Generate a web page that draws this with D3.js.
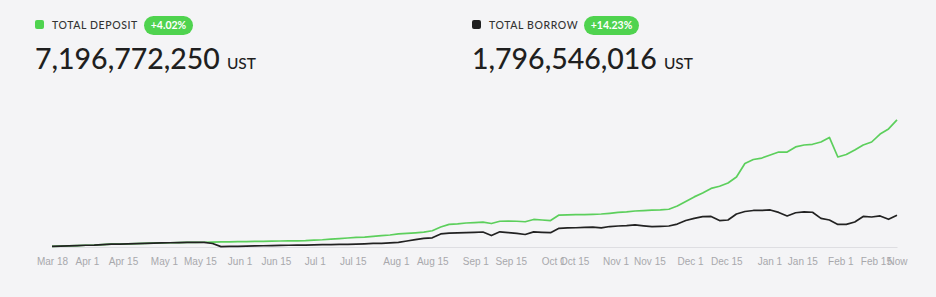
<!DOCTYPE html>
<html>
<head>
<meta charset="utf-8">
<script src="https://cdn.jsdelivr.net/npm/d3@7"></script>
<style>
  html, body { margin: 0; padding: 0; background: #f4f4f6; }
  svg { display: block; }
</style>
</head>
<body>
<div id="chart"></div>
<script>
// header figures
const totals = [
  { label: 'TOTAL DEPOSIT', change: '+4.02%', value: '7,196,772,250', unit: 'UST', key: 'deposit' },
  { label: 'TOTAL BORROW', change: '+14.23%', value: '1,796,546,016', unit: 'UST', key: 'borrow' }
];

// x axis: tick labels and where they fall on the sample index
const tickLabels = ['Mar 18', 'Apr 1', 'Apr 15', 'May 1', 'May 15', 'Jun 1', 'Jun 15', 'Jul 1', 'Jul 15',
  'Aug 1', 'Aug 15', 'Sep 1', 'Sep 15', 'Oct 1', 'Oct 15', 'Nov 1', 'Nov 15', 'Dec 1', 'Dec 15',
  'Jan 1', 'Jan 15', 'Feb 1', 'Feb 15', 'Now'];
const tickAt = [0, 4.14, 8.4, 13.25, 17.5, 22.2, 26.5, 31.1, 35.6, 40.7, 45, 50.1, 54.3, 59.3, 61.8,
  66.7, 70.7, 75.5, 79.8, 84.9, 88.8, 93.3, 97.5, 100];

// series, billions of UST, one value per sample (index 0..100)
const deposit = [
  0.03, 0.05, 0.06, 0.08, 0.10, 0.11, 0.14, 0.16, 0.16, 0.18,
  0.19, 0.20, 0.22, 0.23, 0.24, 0.25, 0.26, 0.26, 0.27, 0.28,
  0.29, 0.29, 0.31, 0.31, 0.32, 0.32, 0.33, 0.34, 0.35, 0.35,
  0.36, 0.39, 0.41, 0.45, 0.48, 0.51, 0.54, 0.56, 0.60, 0.64,
  0.68, 0.74, 0.77, 0.80, 0.84, 0.92, 1.13, 1.28, 1.31, 1.36,
  1.38, 1.41, 1.33, 1.46, 1.47, 1.46, 1.43, 1.56, 1.53, 1.50,
  1.81, 1.82, 1.83, 1.84, 1.85, 1.87, 1.91, 1.96, 1.99, 2.04,
  2.06, 2.09, 2.10, 2.14, 2.32, 2.58, 2.84, 3.06, 3.32, 3.44,
  3.63, 3.97, 4.73, 4.96, 5.04, 5.21, 5.38, 5.38, 5.67, 5.78,
  5.82, 5.95, 6.21, 5.10, 5.24, 5.50, 5.78, 5.95, 6.40, 6.69,
  7.20
];
const borrow = [
  0.03, 0.05, 0.06, 0.08, 0.10, 0.11, 0.14, 0.16, 0.16, 0.18,
  0.19, 0.20, 0.22, 0.23, 0.24, 0.25, 0.26, 0.26, 0.26, 0.20,
  0.02, 0.03, 0.04, 0.05, 0.06, 0.07, 0.08, 0.09, 0.10, 0.11,
  0.11, 0.12, 0.13, 0.14, 0.15, 0.15, 0.16, 0.18, 0.20, 0.21,
  0.23, 0.26, 0.34, 0.42, 0.49, 0.52, 0.74, 0.79, 0.80, 0.82,
  0.83, 0.85, 0.65, 0.86, 0.82, 0.77, 0.71, 0.86, 0.83, 0.81,
  1.06, 1.08, 1.09, 1.11, 1.13, 1.08, 1.16, 1.19, 1.21, 1.25,
  1.20, 1.16, 1.17, 1.19, 1.30, 1.50, 1.62, 1.72, 1.73, 1.50,
  1.53, 1.87, 2.01, 2.07, 2.07, 2.10, 1.96, 1.76, 1.94, 1.99,
  1.97, 1.62, 1.53, 1.28, 1.28, 1.42, 1.73, 1.70, 1.76, 1.57,
  1.80
];

const width = 936, height = 297;
const green = '#4fd34f';
const lineGreen = '#5ccf5c';
const dark = '#1f1f1f';

const svg = d3.select('#chart').append('svg')
  .attr('width', width)
  .attr('height', height);

// header blocks
const head = svg.selectAll('.total')
  .data(totals)
  .enter().append('g')
  .attr('class', 'total')
  .attr('transform', (d, i) => `translate(${i ? 472 : 35}, 0)`);

head.append('rect')
  .attr('x', 0).attr('y', 20)
  .attr('width', 9).attr('height', 9)
  .attr('rx', 2)
  .attr('fill', d => d.key === 'deposit' ? green : dark);

head.append('text')
  .attr('x', 17).attr('y', 28.5)
  .attr('font-family', 'Lato, "Open Sans", sans-serif')
  .attr('font-size', 10.5)
  .attr('font-weight', 500)
  .attr('letter-spacing', 0.6)
  .attr('fill', '#333')
  .text(d => d.label);

const badge = head.append('g')
  .attr('transform', (d, i) => `translate(${i ? 112 : 109}, 16)`);

badge.append('rect')
  .attr('width', (d, i) => i ? 55 : 49)
  .attr('height', 19)
  .attr('rx', 9.5)
  .attr('fill', green);

badge.append('text')
  .attr('x', (d, i) => i ? 27.5 : 24.5)
  .attr('y', 13.3)
  .attr('text-anchor', 'middle')
  .attr('font-family', 'Lato, "Open Sans", sans-serif')
  .attr('font-size', 10.5)
  .attr('font-weight', 700)
  .attr('fill', '#fff')
  .text(d => d.change);

const big = head.append('text')
  .attr('x', 0).attr('y', 69)
  .attr('font-family', 'Lato, "Open Sans", sans-serif')
  .attr('fill', dark);

big.append('tspan')
  .attr('font-size', 28.5)
  .attr('font-weight', 500)
  .text(d => d.value);

big.append('tspan')
  .attr('dx', 7)
  .attr('font-size', 15.5)
  .attr('font-weight', 500)
  .text(d => d.unit);

// chart
const x = d3.scaleLinear()
  .domain([0, deposit.length - 1])
  .range([52, 897]);

const y = d3.scaleLinear()
  .domain([0, 7.197])
  .range([247, 120]);

const xAxis = d3.axisBottom(x)
  .tickValues(tickAt)
  .tickFormat((d, i) => tickLabels[i])
  .tickSize(0)
  .tickPadding(11);

const axisG = svg.append('g')
  .attr('transform', `translate(0, ${y(0)})`)
  .call(xAxis);

axisG.select('.domain')
  .attr('stroke', '#dedee2');

axisG.selectAll('text')
  .attr('font-family', '"Liberation Sans", Arial, sans-serif')
  .attr('font-size', 10)
  .attr('fill', '#a8a8ac');

const line = d3.line()
  .x((d, i) => x(i))
  .y(d => y(d));

svg.append('path')
  .datum(deposit)
  .attr('fill', 'none')
  .attr('stroke', lineGreen)
  .attr('stroke-width', 1.7)
  .attr('stroke-linejoin', 'round')
  .attr('d', line);

svg.append('path')
  .datum(borrow)
  .attr('fill', 'none')
  .attr('stroke', '#222')
  .attr('stroke-width', 1.7)
  .attr('stroke-linejoin', 'round')
  .attr('d', line);
</script>
</body>
</html>
